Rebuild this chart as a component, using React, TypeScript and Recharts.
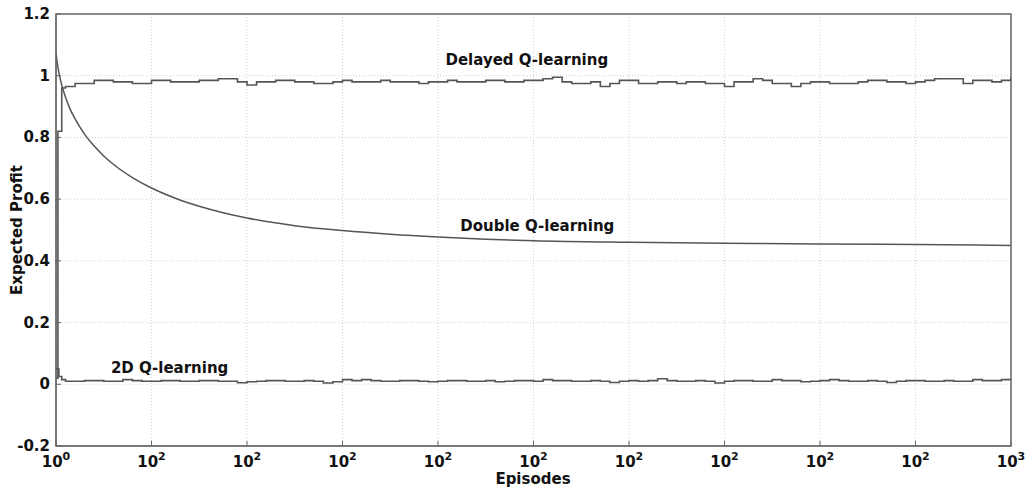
import {
  LineChart, Line, XAxis, YAxis, CartesianGrid, ReferenceArea, ReferenceDot
} from 'recharts'

// x-axis (episodes), drawn on a linear 0..1000 scale with the source's odd labels
const X_TICKS = [0, 100, 200, 300, 400, 500, 600, 700, 800, 900, 1000]
const X_TICK_BASE = ['10', '10', '10', '10', '10', '10', '10', '10', '10', '10', '10']
const X_TICK_EXP = ['0', '2', '2', '2', '2', '2', '2', '2', '2', '2', '3']

const Y_TICKS = [-0.2, 0, 0.2, 0.4, 0.6, 0.8, 1, 1.2]
const Y_TICK_LABELS = ['-0.2', '0', '0.2', '0.4', '0.6', '0.8', '1', '1.2']

// Delayed Q-learning: start-up steps, then one value every 10 episodes (10..1000)
const DELAYED_START_X = [0, 2, 6]
const DELAYED_START_Y = [0.02, 0.82, 0.96]
const DELAYED = [
  0.965, 0.975, 0.975, 0.985, 0.985, 0.98, 0.98, 0.975, 0.975, 0.985,
  0.985, 0.98, 0.98, 0.98, 0.985, 0.985, 0.99, 0.99, 0.98, 0.97,
  0.98, 0.98, 0.985, 0.985, 0.98, 0.98, 0.975, 0.975, 0.98, 0.985,
  0.98, 0.98, 0.98, 0.985, 0.98, 0.98, 0.98, 0.975, 0.98, 0.98,
  0.985, 0.98, 0.98, 0.98, 0.985, 0.985, 0.98, 0.98, 0.985, 0.985,
  0.99, 0.995, 0.98, 0.975, 0.975, 0.98, 0.965, 0.975, 0.985, 0.985,
  0.975, 0.975, 0.98, 0.98, 0.975, 0.98, 0.98, 0.975, 0.975, 0.965,
  0.98, 0.98, 0.99, 0.985, 0.975, 0.975, 0.965, 0.975, 0.98, 0.98,
  0.975, 0.975, 0.975, 0.98, 0.985, 0.985, 0.98, 0.98, 0.975, 0.98,
  0.985, 0.99, 0.99, 0.99, 0.975, 0.985, 0.985, 0.98, 0.985, 0.995,
]

// 2D Q-learning
const TWO_D_START_X = [0, 3, 6]
const TWO_D_START_Y = [0.05, 0.025, 0.015]
const TWO_D = [
  0.01, 0.01, 0.012, 0.012, 0.01, 0.01, 0.015, 0.012, 0.01, 0.01,
  0.012, 0.012, 0.01, 0.01, 0.012, 0.012, 0.01, 0.01, 0.005, 0.008,
  0.01, 0.012, 0.012, 0.01, 0.01, 0.012, 0.01, 0.004, 0.008, 0.015,
  0.012, 0.015, 0.012, 0.01, 0.01, 0.012, 0.012, 0.01, 0.008, 0.01,
  0.012, 0.012, 0.01, 0.01, 0.012, 0.008, 0.01, 0.012, 0.012, 0.01,
  0.015, 0.012, 0.012, 0.01, 0.01, 0.012, 0.01, 0.006, 0.01, 0.012,
  0.01, 0.012, 0.018, 0.012, 0.01, 0.01, 0.012, 0.01, 0.004, 0.01,
  0.012, 0.012, 0.01, 0.01, 0.015, 0.012, 0.012, 0.008, 0.01, 0.012,
  0.015, 0.012, 0.01, 0.01, 0.012, 0.01, 0.006, 0.01, 0.012, 0.012,
  0.01, 0.01, 0.012, 0.01, 0.01, 0.015, 0.012, 0.012, 0.015, 0.012,
]

// Double Q-learning, smooth decay
const DOUBLE_X = [0, 3, 6, 10, 15, 20, 30, 40, 50, 60, 80, 100, 125, 150, 175, 200, 250, 300, 350, 400, 450, 500, 600, 700, 800, 900, 1000]
const DOUBLE_Y = [1.07, 1.01, 0.97, 0.93, 0.89, 0.86, 0.81, 0.772, 0.74, 0.713, 0.67, 0.636, 0.603, 0.577, 0.556, 0.539, 0.514, 0.498, 0.486, 0.477, 0.47, 0.465, 0.46, 0.457, 0.455, 0.453, 0.45]

const delayedData = [
  ...DELAYED_START_X.map((x, i) => ({ x, y: DELAYED_START_Y[i] })),
  ...DELAYED.map((y, i) => ({ x: 10 + i * 10, y })),
]
const twoDData = [
  ...TWO_D_START_X.map((x, i) => ({ x, y: TWO_D_START_Y[i] })),
  ...TWO_D.map((y, i) => ({ x: 10 + i * 10, y })),
]
const doubleData = DOUBLE_X.map((x, i) => ({ x, y: DOUBLE_Y[i] }))

const FONT = '"DejaVu Sans", Verdana, sans-serif'
const AXIS = '#666'
const LINE = '#555'

function XTick({ x, y, payload }: any) {
  const i = X_TICKS.indexOf(payload.value)
  return (
    <g>
      <line x1={x} y1={y} x2={x} y2={y - 5} stroke={AXIS} />
      <text x={x} y={y + 21} textAnchor="middle" fontSize={15} fontWeight="bold" fill="#111" fontFamily={FONT}>
        {X_TICK_BASE[i]}
        <tspan dy={-7} fontSize={11}>{X_TICK_EXP[i]}</tspan>
      </text>
    </g>
  )
}

function TopTick({ x, y }: any) {
  return <line x1={x} y1={y} x2={x} y2={y + 5} stroke={AXIS} />
}

function YTick({ x, y, payload }: any) {
  const i = Y_TICKS.indexOf(payload.value)
  return (
    <g>
      <line x1={x} y1={y} x2={x + 5} y2={y} stroke={AXIS} />
      <text x={x - 6} y={y} textAnchor="end" dominantBaseline="central" fontSize={15} fontWeight="bold" fill="#111" fontFamily={FONT}>
        {Y_TICK_LABELS[i]}
      </text>
    </g>
  )
}

function RightTick({ x, y }: any) {
  return <line x1={x} y1={y} x2={x - 5} y2={y} stroke={AXIS} />
}

const annot = (value: string) => ({
  value, position: 'center' as const, fontSize: 15, fontWeight: 'bold', fill: '#111', fontFamily: FONT,
})

export default function App() {
  return (
    <div style={{ position: 'absolute', left: 0, top: 0, background: '#fff' }}>
      <LineChart width={1035} height={489} margin={{ top: 14, right: 24, bottom: 3, left: 16 }}>
        <CartesianGrid stroke="#d0d0d0" strokeDasharray="1 2" />
        <XAxis
          type="number" dataKey="x" domain={[0, 1000]} ticks={X_TICKS} height={40}
          tickSize={0} tickMargin={0} tickLine={false} axisLine={{ stroke: AXIS }}
          tick={<XTick />} interval={0} allowDataOverflow
          label={{
            content: () => (
              <text x={533} y={484} textAnchor="middle" fontSize={15} fontWeight="bold" fill="#111" fontFamily={FONT}>Episodes</text>
            ),
          }}
        />
        <XAxis
          xAxisId="top" orientation="top" type="number" domain={[0, 1000]} ticks={X_TICKS} height={0}
          tickSize={0} tickMargin={0} tickLine={false} axisLine={false} tick={<TopTick />} interval={0}
        />
        <YAxis
          type="number" domain={[-0.2, 1.2]} ticks={Y_TICKS} width={40}
          tickSize={0} tickMargin={0} tickLine={false} axisLine={{ stroke: AXIS }}
          tick={<YTick />} interval={0} allowDataOverflow
          label={{
            content: () => (
              <text x={17} y={230} transform="rotate(-90 17 230)" textAnchor="middle" dominantBaseline="central"
                fontSize={15} fontWeight="bold" fill="#111" fontFamily={FONT}>Expected Profit</text>
            ),
          }}
        />
        <YAxis
          yAxisId="right" orientation="right" type="number" domain={[-0.2, 1.2]} ticks={Y_TICKS} width={0}
          tickSize={0} tickMargin={0} tickLine={false} axisLine={false} tick={<RightTick />} interval={0}
        />
        <Line data={delayedData} dataKey="y" type="stepAfter" stroke={LINE} strokeWidth={1.6} dot={false} isAnimationActive={false} />
        <Line data={twoDData} dataKey="y" type="stepAfter" stroke={LINE} strokeWidth={1.6} dot={false} isAnimationActive={false} />
        <Line data={doubleData} dataKey="y" type="monotone" stroke={LINE} strokeWidth={1.5} dot={false} isAnimationActive={false} />
        <ReferenceArea x1={0} x2={1000} y1={-0.2} y2={1.2} fill="none" stroke={AXIS} strokeWidth={1.5} />
        <ReferenceDot x={493} y={1.051} r={0} fill="none" stroke="none" label={annot('Delayed Q-learning')} />
        <ReferenceDot x={504} y={0.513} r={0} fill="none" stroke="none" label={annot('Double Q-learning')} />
        <ReferenceDot x={119} y={0.053} r={0} fill="none" stroke="none" label={annot('2D Q-learning')} />
      </LineChart>
    </div>
  )
}
